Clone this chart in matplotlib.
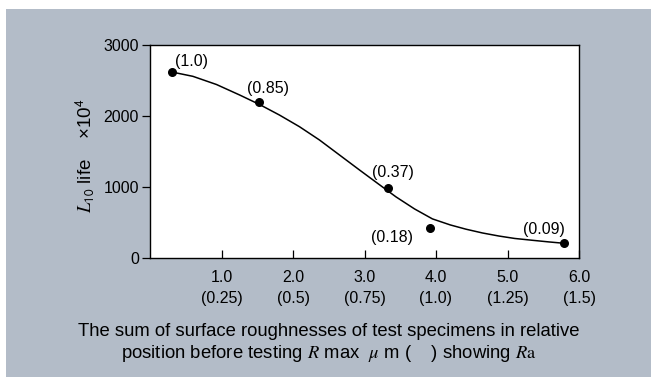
import matplotlib
matplotlib.use("Agg")
import matplotlib.pyplot as plt
from matplotlib.patches import Rectangle
import matplotlib.font_manager as fm

# ---- data ----
point_x = [0.31, 1.53, 3.33, 3.92, 5.79]
point_y = [2615, 2195, 990, 420, 207]
point_labels = ["(1.0)", "(0.85)", "(0.37)", "(0.18)", "(0.09)"]
label_x = [0.35, 1.35, 3.11, 3.09, 5.22]
label_y = [2760, 2390, 1200, 290, 405]

curve_x = [0.31, 0.6, 0.93, 1.255, 1.53, 1.81, 2.09, 2.37, 2.65, 2.93, 3.21, 3.44, 3.7, 3.95,
           4.2, 4.42, 4.65, 4.88, 5.1, 5.35, 5.58, 5.79]
curve_y = [2615, 2555, 2440, 2292, 2160, 2011, 1847, 1660, 1449, 1238, 1030, 860, 690, 550,
           465, 405, 352, 309, 275, 249, 226, 207]

x_ticks = [1.0, 2.0, 3.0, 4.0, 5.0, 6.0]
x_tick_labels = ["1.0\n(0.25)", "2.0\n(0.5)", "3.0\n(0.75)", "4.0\n(1.0)", "5.0\n(1.25)", "6.0\n(1.5)"]
y_ticks = [0, 1000, 2000, 3000]

# ---- fonts ----
avail = {f.name for f in fm.fontManager.ttflist}
narrow = "Liberation Sans Narrow" if "Liberation Sans Narrow" in avail else "Liberation Sans"
plt.rcParams["font.family"] = ["Liberation Sans", "DejaVu Sans"]
plt.rcParams["mathtext.fontset"] = "stix"

W, H = 651, 383
fig = plt.figure(figsize=(W / 100, H / 100), dpi=100, facecolor="white")
bg = "#b3bcc8"
fig.patches.append(Rectangle((6 / W, (H - 377) / H), (W - 6) / W, (377 - 9) / H,
                             transform=fig.transFigure, facecolor=bg, edgecolor="none", zorder=-10))

ax_left, ax_right, ax_top, ax_bot = 150, 579, 44.7, 258
ax = fig.add_axes([ax_left / W, (H - ax_bot) / H, (ax_right - ax_left) / W, (ax_bot - ax_top) / H])
ax.set_facecolor("white")
ax.set_xlim(0, 6)
ax.set_ylim(0, 3000)

ax.plot(curve_x, curve_y, color="black", lw=1.1, zorder=2, solid_joinstyle="round")
ax.scatter(point_x, point_y, s=30, color="black", zorder=3)
fs_num = 12.5 if narrow != "Liberation Sans" else 11.5
for lx, ly, t in zip(label_x, label_y, point_labels):
    ax.text(lx, ly, t, ha="left", va="center", fontsize=fs_num, family=narrow)

for s in ax.spines.values():
    s.set_linewidth(1.0)
    s.set_color("black")

ax.set_xticks(x_ticks)
ax.set_xticklabels(x_tick_labels, fontsize=fs_num, family=narrow, linespacing=1.5)
ax.tick_params(axis="x", direction="in", length=6, width=0.9, pad=9)
ax.set_yticks(y_ticks)
ax.set_yticklabels([str(v) for v in y_ticks], fontsize=fs_num, family=narrow)
ax.tick_params(axis="y", direction="out", length=6, width=0.9, pad=2)

fig.text(84 / W, 1 - 155 / H, r"$L_{\mathsf{10}}$" + " life    ×10$^{\\mathsf{4}}$", rotation=90,
         ha="center", va="center", fontsize=13.5, family=narrow)

fig.text(329 / W, 1 - 332 / H, "The sum of surface roughnesses of test specimens in relative",
         ha="center", va="center", fontsize=13.3)
fig.text(329 / W, 1 - 354 / H,
         r"position before testing $R$ max  $\mu$ m (    ) showing $R\mathrm{a}$",
         ha="center", va="center", fontsize=13.3)

fig.savefig("out.png", dpi=100, facecolor=fig.get_facecolor())
